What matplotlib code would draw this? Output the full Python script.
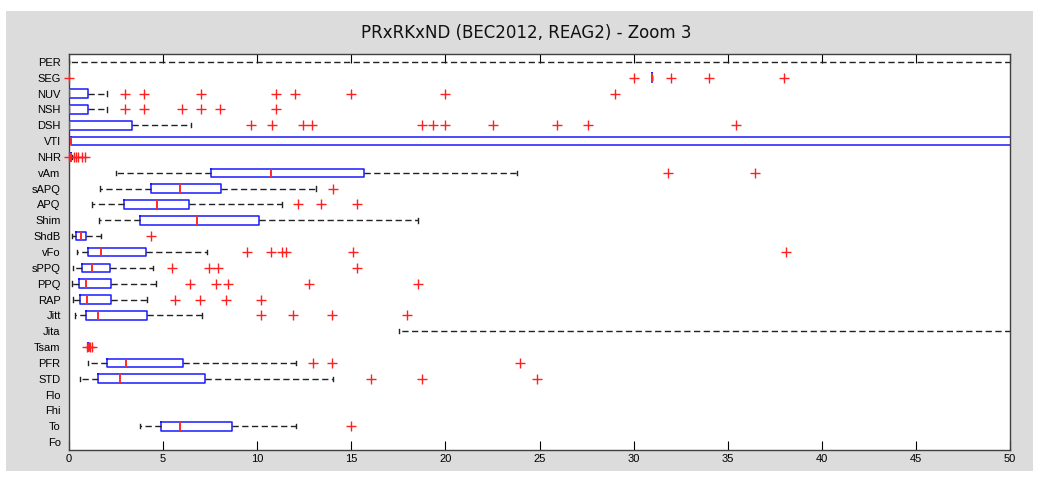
#!/usr/bin/env python3
"""Horizontal boxplot of voice parameters (MATLAB-style), zoomed on 0..50."""

import matplotlib
matplotlib.use('Agg')
import matplotlib.pyplot as plt
from matplotlib.patches import Rectangle

# ============================================================================
# DATA (top row first)
# ============================================================================

labels = ['PER', 'SEG', 'NUV', 'NSH', 'DSH', 'VTI', 'NHR', 'vAm', 'sAPQ', 'APQ',
          'Shim', 'ShdB', 'vFo', 'sPPQ', 'PPQ', 'RAP', 'Jitt', 'Jita', 'Tsam',
          'PFR', 'STD', 'Flo', 'Fhi', 'To', 'Fo']

# None = nothing visible in the 0..50 window
whislo = [0, 31, 0, 0, 0, 0, 0.05, 2.48, 1.65, 1.24,
          1.59, 0.14, 0.44, 0.23, 0.14, 0.19, 0.32, 17.53, 1.0,
          0.99, 0.58, None, None, 3.77, None]
q1 = [60, 31, 0, 0, 0, 0.09, 0.08, 7.53, 4.34, 2.94,
      3.79, 0.37, 0.99, 0.69, 0.53, 0.58, 0.90, 70, 1.02,
      2.02, 1.52, None, None, 4.87, None]
med = [70, 31, 0, 0, 0, 0.10, 0.10, 10.73, 5.92, 4.69,
       6.78, 0.64, 1.68, 1.22, 0.89, 0.94, 1.52, 80, 1.04,
       3.05, 2.71, None, None, 5.92, None]
q3 = [80, 31, 1.03, 1.03, 3.33, 60, 0.13, 15.67, 8.06, 6.36,
      10.11, 0.90, 4.07, 2.18, 2.23, 2.23, 4.13, 90, 1.06,
      6.04, 7.21, None, None, 8.68, None]
whishi = [100, 31, 2.0, 2.0, 6.47, 90, 0.18, 23.79, 13.12, 11.32,
          18.56, 1.68, 7.35, 4.48, 4.62, 4.16, 7.05, 120, 1.08,
          12.05, 14.01, None, None, 12.06, None]
outliers = [
    [],                                   # PER
    [0, 30, 32, 34, 38],                  # SEG
    [3, 4, 7, 11, 12, 15, 20, 29],        # NUV
    [3, 4, 6, 7, 8, 11],                  # NSH
    [9.65, 10.77, 12.45, 12.93, 18.74, 19.36, 20.0, 22.55, 25.91, 27.6, 35.44],
    [],                                   # VTI
    [0.0, 0.25, 0.35, 0.5, 0.67, 0.85],   # NHR
    [31.81, 36.45],                       # vAm
    [14.01],                              # sAPQ
    [12.18, 13.39, 15.29],                # APQ
    [],                                   # Shim
    [4.36],                               # ShdB
    [9.47, 10.75, 11.3, 11.53, 15.07, 38.08],
    [5.49, 7.46, 7.9, 15.29],             # sPPQ
    [6.43, 7.8, 8.45, 12.75, 18.56],      # PPQ
    [5.63, 6.98, 8.34, 10.22],            # RAP
    [10.22, 11.92, 13.99, 17.98],         # Jitt
    [],                                   # Jita
    [0.95, 1.12, 1.2],                    # Tsam
    [12.98, 13.99, 23.98],                # PFR
    [16.03, 18.77, 24.87],                # STD
    [], [],                               # Flo, Fhi
    [14.97],                              # To
    [],                                   # Fo
]

x_ticks = [0, 5, 10, 15, 20, 25, 30, 35, 40, 45, 50]
TITLE = 'PRxRKxND (BEC2012, REAG2) - Zoom 3'

# ============================================================================
# PLOT
# ============================================================================

W, H = 1039, 483
fig = plt.figure(figsize=(W / 100, H / 100), dpi=100, facecolor='white')
fig.patches.append(Rectangle((6 / W, 12 / H), 1027 / W, 460 / H,
                             transform=fig.transFigure, facecolor='#dcdcdc',
                             edgecolor='none', zorder=-5))

ax = fig.add_axes([69 / W, 1 - 450 / H, 941 / W, 396 / H])
ax.set_zorder(2)
ax.set_facecolor('white')

stats, positions = [], []
for i, lab in enumerate(labels):
    if med[i] is None:
        continue
    stats.append(dict(label=lab, whislo=whislo[i], q1=q1[i], med=med[i],
                      q3=q3[i], whishi=whishi[i], fliers=outliers[i]))
    positions.append(i + 1)

parts = ax.bxp(stats, positions=positions, vert=False, widths=0.54, capwidths=0.28,
               boxprops=dict(color='#1a1aff', linewidth=1.1),
               medianprops=dict(color='#ff2a2a', linewidth=1.4, zorder=4),
               whiskerprops=dict(color='#222222', linewidth=1.0,
                                 linestyle=(0, (4.5, 2.5))),
               capprops=dict(color='#222222', linewidth=1.0),
               flierprops=dict(marker='+', markeredgecolor='#ff2020', markersize=7,
                               markeredgewidth=1.0, linestyle='none'))
# outlier crosses at the axis edge are not cut off in the original
for fl in parts['fliers']:
    fl.set_clip_on(False)
    fl.set_zorder(5)

ax.set_xlim(0, 50)
ax.set_ylim(len(labels) + 0.5, 0.5)
ax.set_xticks(x_ticks)
ax.set_xticklabels([str(t) for t in x_ticks], fontsize=8, family='Liberation Sans')
ax.set_yticks(range(1, len(labels) + 1))
ax.set_yticklabels(labels, fontsize=8, family='Liberation Sans')
ax.tick_params(axis='x', direction='in', length=6.5, width=0.8, top=True,
               color='black', pad=3)
ax.tick_params(axis='y', length=0, pad=6)
for sp in ax.spines.values():
    sp.set_color('#404040')
    sp.set_linewidth(1.0)

fig.text(526 / W, 1 - 33 / H, TITLE, ha='center', va='center', fontsize=12,
         color='#111111', zorder=3)

fig.savefig('out.png', dpi=100, facecolor=fig.get_facecolor())
